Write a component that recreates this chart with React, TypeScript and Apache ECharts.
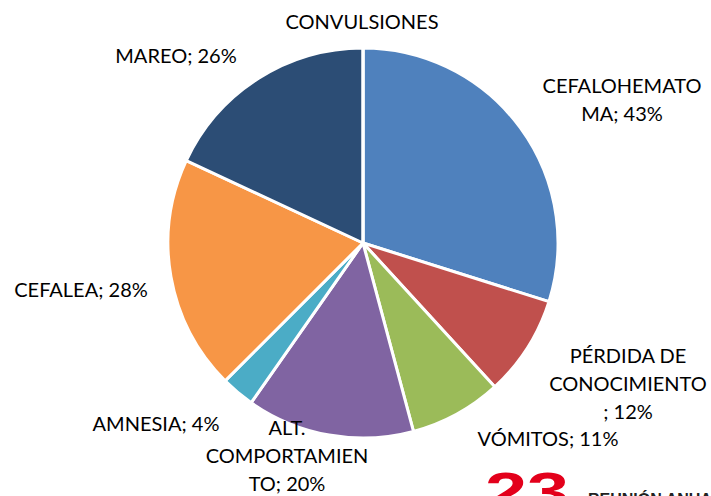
import React, { useEffect, useRef } from "react";
import * as echarts from "echarts";

const categories = [
  "CEFALOHEMATOMA",
  "PÉRDIDA DE CONOCIMIENTO",
  "VÓMITOS",
  "ALT. COMPORTAMIENTO",
  "AMNESIA",
  "CEFALEA",
  "MAREO",
  "CONVULSIONES",
];
const values = [43, 12, 11, 20, 4, 28, 26, 0];
const labelTexts = [
  "CEFALOHEMATO\nMA; 43%",
  "PÉRDIDA DE\nCONOCIMIENTO\n; 12%",
  "VÓMITOS; 11%",
  "ALT.\nCOMPORTAMIEN\nTO; 20%",
  "AMNESIA; 4%",
  "CEFALEA; 28%",
  "MAREO; 26%",
  "CONVULSIONES",
];
const colors = ["#4F81BD", "#C0504D", "#9BBB59", "#8064A2", "#4BACC6", "#F79646", "#2C4D75", "#4F81BD"];
const labelPos: [number, number][] = [
  [622, 99],
  [628, 383],
  [548, 438],
  [287, 455],
  [156, 423],
  [81, 289],
  [176, 55],
  [362, 21],
];

export default function App() {
  const ref = useRef<HTMLDivElement>(null);
  useEffect(() => {
    if (!ref.current) return;
    const chart = echarts.init(ref.current, undefined, { renderer: "svg" });
    chart.setOption({
      animation: false,
      backgroundColor: "#ffffff",
      series: [
        {
          type: "pie",
          center: [363, 243],
          radius: [0, 195],
          startAngle: 90,
          clockwise: true,
          avoidLabelOverlap: false,
          stillShowZeroSum: true,
          itemStyle: { borderColor: "#ffffff", borderWidth: 3 },
          label: {
            show: true,
            position: "outside",
            fontFamily: "Lato",
            fontSize: 20,
            lineHeight: 28,
            color: "#000000",
            align: "center",
            formatter: (p: any) => labelTexts[p.dataIndex],
          },
          labelLine: { show: false },
          labelLayout: (p: any) => ({
            x: labelPos[p.dataIndex][0],
            y: labelPos[p.dataIndex][1],
            align: "center",
            verticalAlign: "middle",
          }),
          emphasis: { disabled: true },
          data: categories.map((name, i) => ({
            name,
            value: values[i],
            itemStyle: { color: colors[i] },
          })),
        },
      ],
      graphic: [
        {
          type: "text",
          x: 485,
          y: 464,
          scaleX: 1.4,
          style: {
            text: "23",
            fontFamily: "Liberation Sans",
            fontWeight: "bold",
            fontSize: 54,
            fill: "#E3001B",
            textVerticalAlign: "top",
          },
        },
        {
          type: "text",
          x: 588,
          y: 491,
          style: {
            text: "REUNIÓN ANUAL",
            fontFamily: "Liberation Sans",
            fontWeight: "bold",
            fontSize: 16,
            fill: "#222222",
            textVerticalAlign: "top",
          },
        },
      ],
    });
    return () => chart.dispose();
  }, []);
  return (
    <div
      ref={ref}
      style={{ position: "fixed", left: 0, top: 0, width: 711, height: 496 }}
    />
  );
}
